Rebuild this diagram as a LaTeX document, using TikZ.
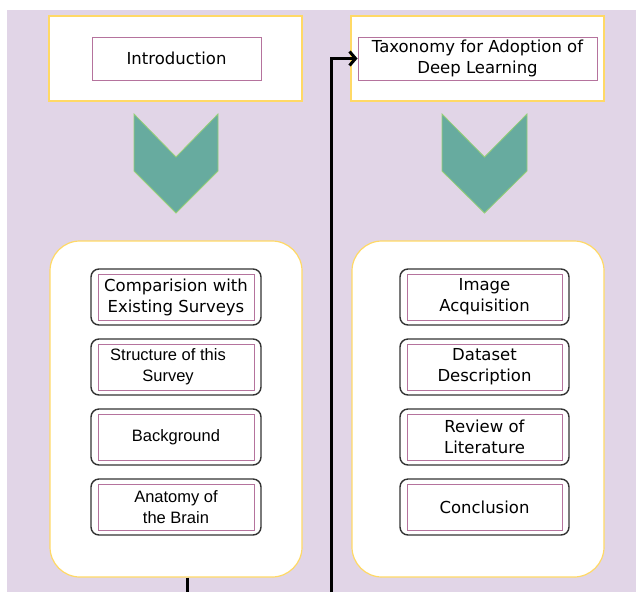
\documentclass[tikz,border=0pt]{standalone}
\usepackage{fontspec}
\setmainfont{DejaVu Sans}
\newfontfamily\arialf{Liberation Sans}
\usetikzlibrary{arrows.meta}
\definecolor{bgpurple}{HTML}{E1D5E7}
\definecolor{ylw}{HTML}{FFD966}
\definecolor{pnk}{HTML}{B5739D}
\definecolor{chevfill}{HTML}{67AB9F}
\definecolor{chevline}{HTML}{97D077}
\tikzset{
  outerbox/.style={draw=ylw, line width=1.2pt, fill=white, minimum width=253pt, minimum height=85pt, inner sep=0pt},
  container/.style={draw=ylw, line width=1.2pt, fill=white, rounded corners=30pt, minimum width=252pt, minimum height=336pt, inner sep=0pt},
  itemouter/.style={draw=black!80, line width=1.4pt, rounded corners=8pt, fill=white, minimum width=170pt, minimum height=56pt, inner sep=0pt},
  iteminner/.style={draw=pnk, line width=1pt, fill=white, minimum width=156pt, minimum height=46pt, inner sep=0pt, align=center, font=\fontsize{16.5}{21}\selectfont},
  headinner/.style={draw=pnk, line width=1pt, fill=white, minimum height=43pt, inner sep=0pt, align=center, font=\fontsize{16.5}{21}\selectfont},
  chevron/.style={fill=chevfill, draw=chevline, line width=0.8pt},
  link/.style={draw=black, line width=3pt},
}
\begin{document}
\begin{tikzpicture}[x=1pt, y=-1pt]
\useasboundingbox (0,0) rectangle (636,592);
\fill[white] (0,0) rectangle (636,592);
\fill[bgpurple] (7,10) rectangle (636,592);
% headers
\node[outerbox] (introo) at (175.5,58.5) {};
\node[headinner, minimum width=169pt] (intro) at (176.5,58.5) {Introduction};
\node[outerbox] (taxo) at (477.5,58.5) {};
\node[headinner, minimum width=239pt] (taxi) at (477.5,58.5) {Taxonomy for Adoption of\\Deep Learning};
% chevrons
\draw[chevron] (134,114) -- (176,157) -- (218,114) -- (218,171) -- (176,213) -- (134,171) -- cycle;
\draw[chevron] (442,114) -- (484.5,157) -- (527,114) -- (527,171) -- (484.5,213) -- (442,171) -- cycle;
% containers
\node[container] (lc) at (176,409) {};
\node[container] (rc) at (478,409) {};
% left items
\node[itemouter] (l1o) at (176,297) {};
\node[iteminner] (l1) at (176,297) {Comparision with\\Existing Surveys};
\node[itemouter] (l2o) at (176,367) {};
\node[iteminner] (l2) at (176,367) {\arialf\hspace*{-16pt}Structure of this\\\arialf\hspace*{-16pt}Survey};
\node[itemouter] (l3o) at (176,437) {};
\node[iteminner] (l3) at (176,437) {\arialf Background};
\node[itemouter] (l4o) at (176,507) {};
\node[iteminner] (l4) at (176,507) {\arialf Anatomy of\\\arialf the Brain};
% right items
\node[itemouter, minimum width=169pt] (r1o) at (484.5,297) {};
\node[iteminner, minimum width=155pt] (r1) at (484.5,297) {Image\\Acquisition};
\node[itemouter, minimum width=169pt] (r2o) at (484.5,367) {};
\node[iteminner, minimum width=155pt] (r2) at (484.5,367) {Dataset\\Description};
\node[itemouter, minimum width=169pt] (r3o) at (484.5,437) {};
\node[iteminner, minimum width=155pt] (r3) at (484.5,437) {Review of\\Literature};
\node[itemouter, minimum width=169pt] (r4o) at (484.5,507) {};
\node[iteminner, minimum width=155pt] (r4) at (484.5,507) {Conclusion};
% connectors
\coordinate (lend) at (187,592);
\coordinate (rend) at (331,592);
\draw[link] (lc.south -| lend) -- (lend);
\draw[link, -{Straight Barb[length=6pt,width=14pt]}] (rend) |- (taxi.west);
\end{tikzpicture}
\end{document}
